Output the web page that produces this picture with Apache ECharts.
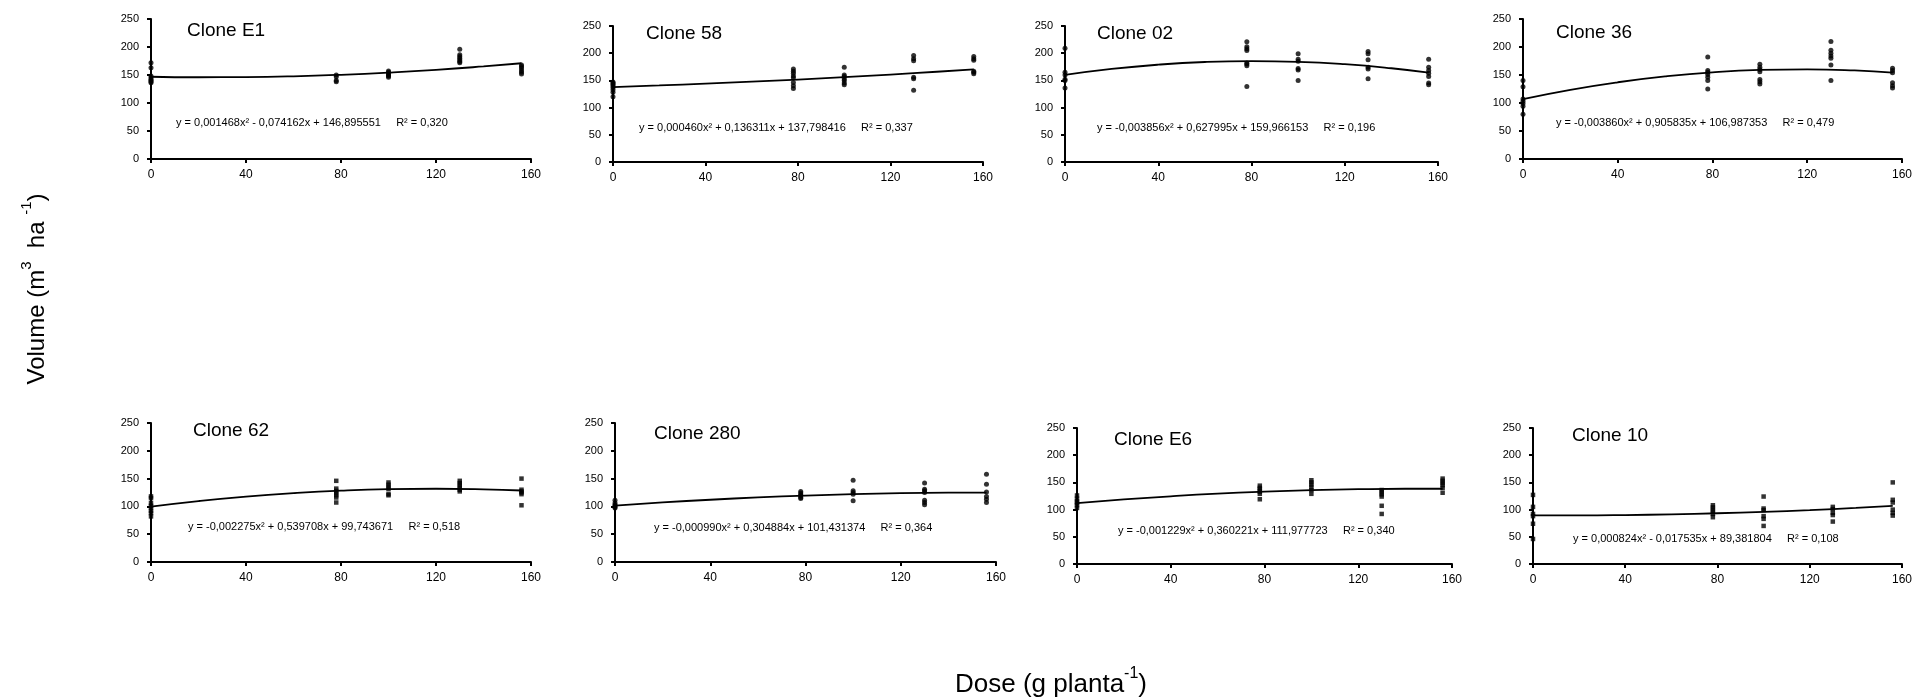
<!DOCTYPE html>
<html>
<head>
<meta charset="utf-8">
<title>Volume x Dose</title>
<script src="https://cdn.jsdelivr.net/npm/echarts@6/dist/echarts.min.js"></script>
<style>
  html, body { margin: 0; padding: 0; background: #fff; }
  #chart { width: 1915px; height: 698px; }
</style>
</head>
<body>
<div id="chart"></div>
<script>
const doses = [0, 78, 100, 130, 156];
const trendDoses = [0, 20, 40, 60, 80, 100, 120, 140, 156];

const clones = ["Clone E1", "Clone 58", "Clone 02", "Clone 36", "Clone 62", "Clone 280", "Clone E6", "Clone 10"];
const equations = [
  "y = 0,001468x² - 0,074162x + 146,895551",
  "y = 0,000460x² + 0,136311x + 137,798416",
  "y = -0,003856x² + 0,627995x + 159,966153",
  "y = -0,003860x² + 0,905835x + 106,987353",
  "y = -0,002275x² + 0,539708x + 99,743671",
  "y = -0,000990x² + 0,304884x + 101,431374",
  "y = -0,001229x² + 0,360221x + 111,977723",
  "y = 0,000824x² - 0,017535x + 89,381804"
];
const r2 = ["0,320", "0,337", "0,196", "0,479", "0,518", "0,364", "0,340", "0,108"];

// observed volumes, one inner list per dose
const volE1 = [[172, 163, 148, 145, 142, 140, 138, 136], [150, 147, 140, 138], [157, 155, 152, 150, 148, 146], [196, 186, 183, 180, 177, 174, 172], [168, 165, 162, 158, 155, 152]];
const vol58 = [[147, 145, 143, 140, 137, 133, 128, 120], [171, 167, 163, 158, 155, 146, 140, 135], [174, 160, 157, 153, 150, 145, 142], [196, 190, 186, 156, 153, 132], [194, 190, 187, 167, 165, 162]];
const vol02 = [[209, 165, 160, 152, 150, 136], [221, 212, 208, 205, 182, 180, 177, 139], [199, 189, 185, 172, 169, 150], [203, 199, 188, 174, 171, 153], [189, 174, 168, 163, 157, 145, 142]];
const vol36 = [[140, 129, 107, 103, 99, 94, 80], [182, 158, 155, 151, 146, 140, 125], [169, 164, 160, 156, 142, 138, 134], [210, 194, 189, 184, 180, 168, 140], [162, 158, 154, 136, 131, 127]];
const vol62 = [[118, 115, 106, 101, 97, 92, 88, 82], [146, 132, 128, 124, 120, 116, 107], [143, 139, 135, 131, 122, 120], [146, 142, 138, 134, 130, 127], [150, 130, 127, 125, 122, 102]];
const vol280 = [[111, 106, 103, 101, 99, 97], [127, 124, 121, 119, 116, 114], [147, 128, 125, 122, 110], [142, 131, 128, 125, 111, 107, 103], [158, 140, 126, 118, 113, 107]];
const volE6 = [[126, 120, 115, 112, 108, 103], [144, 140, 137, 133, 129, 119], [154, 150, 146, 141, 136, 129], [136, 132, 128, 124, 107, 92], [157, 153, 149, 145, 140, 131]];
const vol10 = [[127, 105, 92, 88, 74, 46], [108, 104, 100, 96, 92, 86], [124, 102, 99, 88, 83, 70], [105, 101, 94, 90, 78], [150, 118, 113, 100, 94, 89]];

// fitted curves read at trendDoses
const fitE1 = [146.9, 146.0, 146.3, 147.7, 150.4, 154.2, 159.1, 165.3, 171.0];
const fit58 = [137.8, 140.7, 144.0, 147.6, 151.6, 156.0, 160.8, 165.9, 170.3];
const fit02 = [160.0, 171.0, 178.9, 183.8, 185.5, 184.2, 179.8, 172.3, 164.1];
const fit36 = [107.0, 123.6, 137.0, 147.4, 154.8, 159.0, 160.1, 158.2, 154.4];
const fit62 = [99.7, 109.6, 117.7, 123.9, 128.4, 131.0, 131.7, 130.7, 128.6];
const fit280 = [101.4, 107.1, 112.0, 116.2, 119.5, 122.0, 123.8, 124.7, 124.9];
const fitE6 = [112.0, 118.7, 124.4, 129.2, 132.9, 135.7, 137.5, 138.3, 138.3];
const fit10 = [89.4, 89.4, 90.0, 91.3, 93.3, 95.9, 99.1, 103.1, 106.7];

const volumes = [volE1, vol58, vol02, vol36, vol62, vol280, volE6, vol10];
const fits = [fitE1, fit58, fit02, fit36, fit62, fit280, fitE6, fit10];

// panel placement in the page
const panels = [
  { left: 151, top: 19, width: 380, height: 140, title: [187, 31], eq: [176, 123], marker: "circle" },
  { left: 613, top: 26, width: 370, height: 136, title: [646, 33.5], eq: [639, 128], marker: "circle" },
  { left: 1065, top: 26, width: 373, height: 136, title: [1097, 34], eq: [1097, 127.5], marker: "circle" },
  { left: 1523, top: 19, width: 379, height: 140, title: [1556, 33], eq: [1556, 123], marker: "circle" },
  { left: 151, top: 423, width: 380, height: 139, title: [193, 430.5], eq: [188, 527], marker: "rect" },
  { left: 615, top: 423, width: 381, height: 139, title: [654, 434], eq: [654, 527.5], marker: "circle" },
  { left: 1077, top: 428, width: 375, height: 136, title: [1114, 440], eq: [1118, 531], marker: "rect" },
  { left: 1533, top: 428, width: 370, height: 136, title: [1572, 436], eq: [1573, 538.5], marker: "rect" }
];

const FONT = "Liberation Sans, Arial, sans-serif";
const chart = echarts.init(document.getElementById("chart"));

const grids = [], xAxes = [], yAxes = [], series = [], graphics = [];

panels.forEach((p, i) => {
  grids.push({ left: p.left, top: p.top, width: p.width, height: p.height });
  const axisCommon = {
    gridIndex: i,
    axisLine: { lineStyle: { color: "#000", width: 2 } },
    axisTick: { show: true, length: 4, lineStyle: { color: "#000", width: 2 } },
    splitLine: { show: false }
  };
  xAxes.push(Object.assign({}, axisCommon, {
    type: "value", min: 0, max: 160, interval: 40,
    axisLabel: { color: "#000", fontSize: 12, fontFamily: FONT, margin: 10 }
  }));
  yAxes.push(Object.assign({}, axisCommon, {
    type: "value", min: 0, max: 250, interval: 50,
    axisLabel: { color: "#000", fontSize: 11, fontFamily: FONT, margin: 12 }
  }));

  const pts = [];
  doses.forEach((d, k) => volumes[i][k].forEach(v => pts.push([d, v])));
  series.push({
    type: "scatter", xAxisIndex: i, yAxisIndex: i,
    symbol: p.marker, symbolSize: p.marker === "rect" ? 4.5 : 5,
    itemStyle: { color: "#000" },
    data: pts
  });
  series.push({
    type: "line", xAxisIndex: i, yAxisIndex: i,
    smooth: true, showSymbol: false,
    lineStyle: { color: "#000", width: 1.8 },
    data: trendDoses.map((d, k) => [d, fits[i][k]])
  });

  graphics.push({
    type: "text", x: p.title[0], y: p.title[1],
    style: { text: clones[i], font: "19px " + FONT, fill: "#000", verticalAlign: "middle" }
  });
  graphics.push({
    type: "text", x: p.eq[0], y: p.eq[1],
    style: { text: equations[i] + "     R² = " + r2[i], font: "11px " + FONT, fill: "#000", verticalAlign: "middle" }
  });
});

graphics.push({
  type: "text", x: 34, y: 289, rotation: Math.PI / 2,
  style: {
    text: "{n|Volume (m}{s|3}{n|  ha }{s|-1}{n|)}",
    rich: {
      n: { fontSize: 24, fontFamily: FONT, fill: "#000", lineHeight: 30, verticalAlign: "bottom" },
      s: { fontSize: 15, fontFamily: FONT, fill: "#000", lineHeight: 30, verticalAlign: "top" }
    },
    align: "center", verticalAlign: "middle", fill: "#000"
  }
});
graphics.push({
  type: "text", x: 1051, y: 682,
  style: {
    text: "{n|Dose (g planta}{s|-1}{n|)}",
    rich: {
      n: { fontSize: 26, fontFamily: FONT, fill: "#000", lineHeight: 32, verticalAlign: "bottom" },
      s: { fontSize: 16, fontFamily: FONT, fill: "#000", lineHeight: 32, verticalAlign: "top" }
    },
    align: "center", verticalAlign: "middle", fill: "#000"
  }
});

chart.setOption({
  animation: false,
  backgroundColor: "#fff",
  grid: grids,
  xAxis: xAxes,
  yAxis: yAxes,
  series: series,
  graphic: graphics
});
</script>
</body>
</html>
